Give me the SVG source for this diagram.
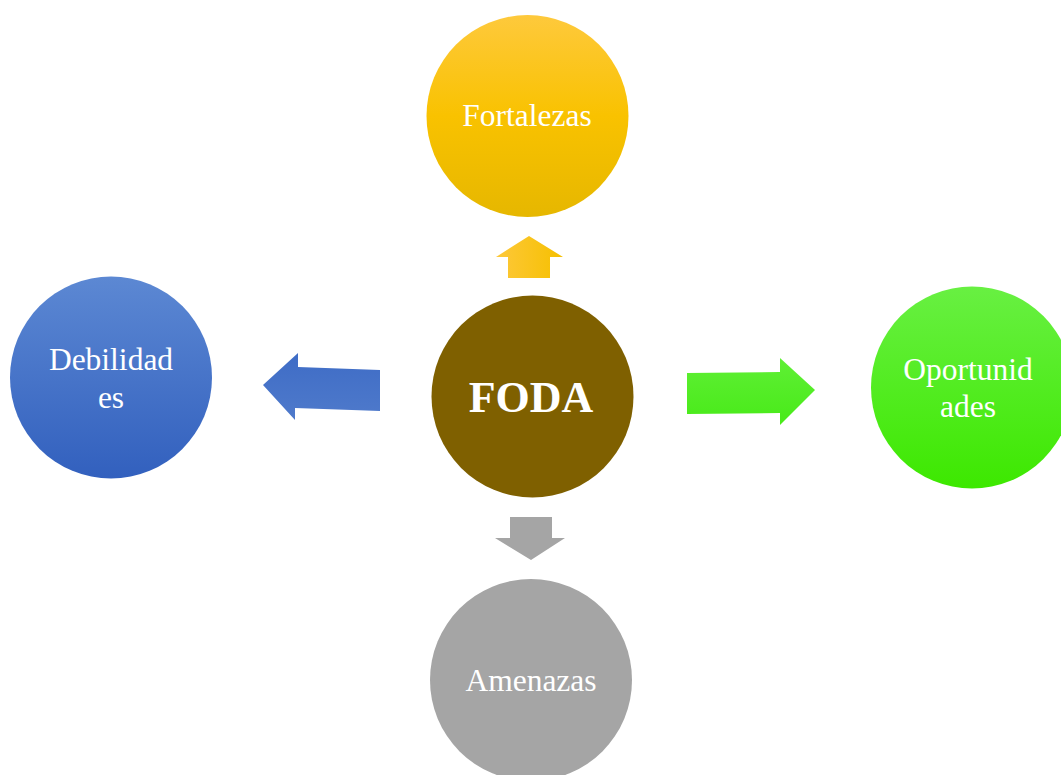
<svg xmlns="http://www.w3.org/2000/svg" width="1061" height="775" viewBox="0 0 1061 775">
<style>
.lbl{font-family:"Liberation Serif","Times New Roman",serif;fill:#ffffff;font-size:31.5px;text-anchor:middle}
.big{font-family:"Liberation Serif","Times New Roman",serif;fill:#ffffff;font-size:44px;font-weight:bold;text-anchor:middle}
</style>
<defs>
<linearGradient id="gY" x1="0" y1="0" x2="0" y2="1"><stop offset="0" stop-color="#FEC93C"/><stop offset="0.5" stop-color="#F9C200"/><stop offset="1" stop-color="#E6B700"/></linearGradient>
<linearGradient id="gB" x1="0" y1="0" x2="0" y2="1"><stop offset="0" stop-color="#5C88D3"/><stop offset="1" stop-color="#3260BE"/></linearGradient>
<linearGradient id="gG" x1="0" y1="0" x2="0" y2="1"><stop offset="0" stop-color="#68F042"/><stop offset="1" stop-color="#3DE800"/></linearGradient>
<linearGradient id="gYa" x1="0" y1="0" x2="1" y2="0"><stop offset="0" stop-color="#FDC83A"/><stop offset="1" stop-color="#F6C000"/></linearGradient>
<linearGradient id="gBa" x1="0" y1="0" x2="0" y2="1"><stop offset="0" stop-color="#3E6CC6"/><stop offset="1" stop-color="#4F7ACB"/></linearGradient>
<linearGradient id="gGa" x1="0" y1="0" x2="0" y2="1"><stop offset="0" stop-color="#5FEF35"/><stop offset="1" stop-color="#48EA18"/></linearGradient>
</defs>
<rect width="1061" height="775" fill="#ffffff"/>
<g id="connectors">
<polygon points="529,236 563,257 550,257 550,278 508,278 508,257 496,257" fill="url(#gYa)"/>
<polygon points="263,385 298,353 298,367 380,370 380,411 295,408 295,420" fill="url(#gBa)"/>
<polygon points="815,390 780,358 780,372 687,373 687,414 780,413 780,425" fill="url(#gGa)"/>
<polygon points="531,560 565,538 552,538 552,517 510,517 510,538 495,538" fill="#A5A5A5"/>
</g>
<g id="fortalezas">
<circle cx="527.5" cy="116" r="101" fill="url(#gY)"/>
<text class="lbl" x="527" y="126">Fortalezas</text>
</g>
<g id="foda">
<circle cx="532.5" cy="396.5" r="101" fill="#7F6000"/>
<text class="big" x="531" y="412">FODA</text>
</g>
<g id="debilidades">
<circle cx="111" cy="377.5" r="101" fill="url(#gB)"/>
<text class="lbl" x="111" y="370">Debilidad</text>
<text class="lbl" x="111" y="408">es</text>
</g>
<g id="oportunidades">
<circle cx="972" cy="387.5" r="101" fill="url(#gG)"/>
<text class="lbl" x="968" y="380">Oportunid</text>
<text class="lbl" x="968" y="417">ades</text>
</g>
<g id="amenazas">
<circle cx="531" cy="680" r="101" fill="#A5A5A5"/>
<text class="lbl" x="531" y="691">Amenazas</text>
</g>
</svg>
